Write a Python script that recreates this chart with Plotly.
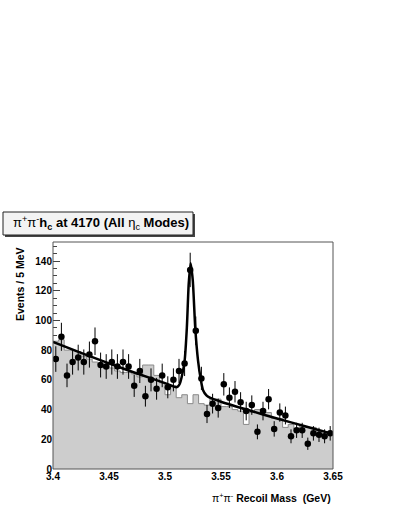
import numpy as np
import plotly.graph_objects as go

# ---------------------------------------------------------------------
# Data (5 MeV bins, 3.400 - 3.650 GeV)
# ---------------------------------------------------------------------
bin_lo = 3.40
bin_w = 0.005

data_counts = [74, 89, 63, 72, 75, 72, 77, 86, 70, 69,
               72, 69, 72, 69, 56, 66, 49, 60, 54, 63,
               55, 60, 66, 71, 134, 93, 61, 37, 44, 41,
               57, 48, 52, 45, 39, 43, 25, 39, 47, 27,
               38, 36, 22, 26, 26, 17, 24, 23, 22, 24]

# background expectation histogram (grey)
bkg_counts = [86, 87, 80, 80, 79, 76, 74, 72, 70, 70,
              68, 66, 65, 65, 64, 62, 70, 70, 63, 58,
              50, 56, 48, 50, 44, 50, 44, 43, 47, 47,
              42, 42, 40, 39, 30, 38, 40, 40, 38, 34,
              34, 28, 30, 27, 29, 28, 28, 25, 24, 25]

# fit curve
fit_mass = [3.400, 3.425, 3.450, 3.475, 3.500, 3.510, 3.5115, 3.513,
            3.5155, 3.5176, 3.5195, 3.5212, 3.5229, 3.5248, 3.527,
            3.5295, 3.532, 3.534, 3.537, 3.540, 3.550, 3.575, 3.600,
            3.625, 3.650]
fit_value = [85.5, 78.2, 71.1, 64.3, 57.8, 55.0, 55.5, 57.0,
             64.0, 73.5, 95.0, 125.0, 138.5, 127.0, 95.0,
             73.0, 60.0, 53.0, 49.5, 48.0, 45.3, 39.5, 34.0,
             28.8, 23.5]

y_ticks = [0, 20, 40, 60, 80, 100, 120, 140]
x_ticks = [3.4, 3.45, 3.5, 3.55, 3.6, 3.65]
x_tick_text = ["3.4", "3.45", "3.5", "3.55", "3.6", "3.65"]

n_bins = len(data_counts)
edges = [bin_lo + bin_w * i for i in range(n_bins + 1)]
centers = [bin_lo + bin_w * (i + 0.5) for i in range(n_bins)]

# ---------------------------------------------------------------------
# Page geometry (pixels)
# ---------------------------------------------------------------------
W, H = 399, 516
L, R, T, B = 53, 333, 242, 469

def px(x):
    return (x - L) / (R - L)

def py(y):
    return (B - y) / (B - T)

FONT = "Liberation Sans, Arial, sans-serif"

fig = go.Figure()

fig.add_trace(go.Scatter(
    x=edges, y=bkg_counts + [bkg_counts[-1]],
    mode="lines", line=dict(shape="hv", color="#8a8a8a", width=1),
    fill="tozeroy", fillcolor="#cdcdcd", hoverinfo="skip",
))

fig.add_trace(go.Scatter(
    x=centers, y=data_counts, mode="markers",
    marker=dict(color="black", size=6.5),
    error_y=dict(type="data", array=list(np.sqrt(data_counts)),
                 color="black", thickness=1, width=0),
))

fig.add_trace(go.Scatter(
    x=fit_mass, y=fit_value, mode="lines",
    line=dict(color="black", width=2.5, shape="spline", smoothing=0.6),
    hoverinfo="skip",
))

fig.update_layout(
    width=W, height=H,
    margin=dict(l=L, r=W - R, t=T, b=H - B, pad=0),
    paper_bgcolor="white", plot_bgcolor="white",
    showlegend=False,
    font=dict(family=FONT, color="black"),
    xaxis=dict(
        range=[3.4, 3.65], tickvals=x_ticks, ticktext=x_tick_text,
        showgrid=False, zeroline=False, ticks="", automargin=False,
        tickfont=dict(size=10, weight="bold"), layer="below traces",
    ),
    yaxis=dict(
        range=[0, 152.8], tickvals=y_ticks,
        showgrid=False, zeroline=False, automargin=False,
        ticks="inside", ticklen=7, tickcolor="#444",
        minor=dict(dtick=5, ticks="inside", ticklen=4, tickcolor="#444"),
        tickfont=dict(size=10, weight="bold"), layer="below traces",
    ),
)

# frame round the plot area
fig.add_shape(type="rect", xref="paper", yref="paper",
              x0=0, x1=1, y0=0, y1=1,
              line=dict(color="#555", width=1), layer="above")

# title box with shadow
fig.add_shape(type="rect", xref="paper", yref="paper",
              x0=px(5), x1=px(195), y0=py(237), y1=py(214),
              line=dict(width=0), fillcolor="#444")
fig.add_shape(type="rect", xref="paper", yref="paper",
              x0=px(3), x1=px(193), y0=py(235), y1=py(212),
              line=dict(color="#222", width=1), fillcolor="#f3f3f3")
fig.add_annotation(
    xref="paper", yref="paper", x=px(101), y=py(223.5),
    xanchor="center", yanchor="middle", showarrow=False,
    text="π<sup>+</sup>π<sup>-</sup><b>h<sub>c</sub> at 4170 (All </b>η<sub>c</sub><b> Modes)</b>",
    font=dict(size=13, family=FONT),
)

# axis titles
fig.add_annotation(
    xref="paper", yref="paper", x=px(20), y=py(284),
    xanchor="center", yanchor="middle", showarrow=False, textangle=-90,
    text="<b>Events / 5 MeV</b>", font=dict(size=10.5, family=FONT),
)
fig.add_annotation(
    xref="paper", yref="paper", x=px(333), y=py(497),
    xanchor="right", yanchor="middle", showarrow=False,
    text="π<sup>+</sup>π<sup>-</sup> <b>Recoil Mass\u00a0 (GeV)</b>",
    font=dict(size=10.5, family=FONT),
)

# the page's default body margin would shift the figure
fig.write_html("out.html", config={"displayModeBar": False},
               post_script="document.body.style.margin='0px';")
